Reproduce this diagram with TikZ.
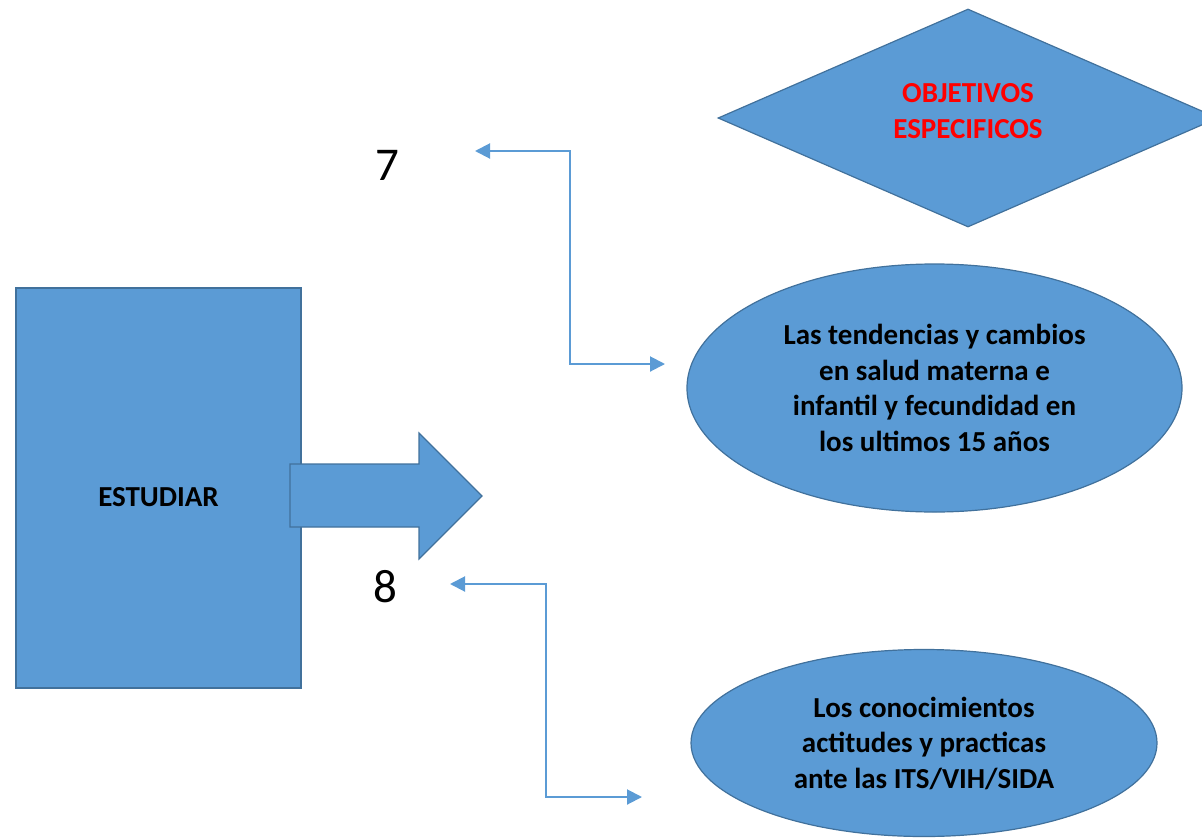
\documentclass[tikz,border=0pt]{standalone}
\usepackage{fontspec}
\setmainfont{Carlito}
\usepackage{xcolor}
\usepackage{tikz}
\usetikzlibrary{shapes.geometric}
\usetikzlibrary{arrows.meta}

\definecolor{officeblue}{HTML}{5B9BD5}
\definecolor{officeedge}{HTML}{41719C}

\begin{document}
\begin{tikzpicture}[x=1pt, y=-1pt, every node/.style={font=\fontsize{29}{35.5}\selectfont\bfseries, align=center, inner sep=0pt}, shapebox/.style={fill=officeblue, draw=officeedge, line width=1.2pt}, numlabel/.style={font=\fontsize{47}{50}\selectfont}, link/.style={draw=officeblue, line width=2pt, {Triangle[length=15pt,width=15pt]}-{Triangle[length=15pt,width=15pt]}}]
  \useasboundingbox (0,0) rectangle (1202,838);
  \clip (0,0) rectangle (1202,838);
  \node[shapebox, rectangle, minimum width=285pt, minimum height=400pt, text height=38pt] (estudiar) at (158.5,488) {ESTUDIAR};
  % block arrow
  \draw[shapebox] (290,464) -- (419,464) -- (419,433) -- (482,496) -- (419,559) -- (419,527) -- (290,527) -- cycle;
  \node[shapebox, diamond, shape aspect=2.29, minimum width=500pt, minimum height=218pt, text=red, text depth=14pt] (objetivos) at (968,118) {OBJETIVOS\\ESPECIFICOS};
  \node[shapebox, ellipse, minimum width=495pt, minimum height=248pt] (tendencias) at (934.5,388) {Las tendencias y cambios\\en salud materna e\\infantil y fecundidad en\\los ultimos 15 años};
  \node[shapebox, ellipse, minimum width=466pt, minimum height=187pt] (conocimientos) at (924,743) {Los conocimientos\\actitudes y practicas\\ante las ITS/VIH/SIDA};
  \node[numlabel] (siete) at (387,165) {7};
  \node[numlabel] (ocho) at (385,587) {8};
  % connectors
  \coordinate (a7) at (475,151);
  \coordinate (k7) at (570,258);
  \coordinate (b7) at (665,364);
  \coordinate (a8) at (450,584);
  \coordinate (k8) at (546,690);
  \coordinate (b8) at (642,797);
  \draw[link] (a7) -| (k7) |- (b7);
  \draw[link] (a8) -| (k8) |- (b8);
\end{tikzpicture}
\end{document}
